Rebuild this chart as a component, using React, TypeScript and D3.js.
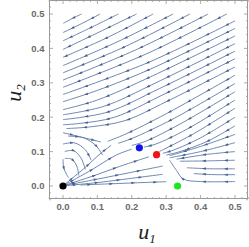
import { useRef, useEffect } from 'react';
import * as d3 from 'd3';

type Pt = [number, number];

// streamlines, listed in flow direction
const upperLines: Pt[][] = [
  [[0.054, 0.5], [0.027, 0.487], [0.001, 0.473]],
  [[0.108, 0.5], [0.054, 0.472], [0.0, 0.446]],
  [[0.161, 0.5], [0.08, 0.46], [0.0, 0.422]],
  [[0.214, 0.5], [0.1, 0.445], [0.0, 0.397]],
  [[0.262, 0.5], [0.13, 0.432], [0.0, 0.374]],
  [[0.32, 0.5], [0.16, 0.42], [0.0, 0.35]],
  [[0.369, 0.5], [0.18, 0.405], [0.0, 0.329]],
  [[0.422, 0.5], [0.21, 0.395], [0.0, 0.308]],
  [[0.476, 0.5], [0.24, 0.383], [0.0, 0.287]],
  [[0.5, 0.48], [0.25, 0.36], [0.0, 0.266]],
  [[0.5, 0.458], [0.25, 0.338], [0.1, 0.278], [0.0, 0.245]],
  [[0.5, 0.436], [0.26, 0.32], [0.1, 0.25], [0.0, 0.222]],
  [[0.5, 0.414], [0.27, 0.3], [0.12, 0.232], [0.0, 0.207]],
  [[0.5, 0.392], [0.28, 0.283], [0.13, 0.215], [0.0, 0.193]],
  [[0.5, 0.37], [0.29, 0.265], [0.15, 0.2], [0.05, 0.182], [0.0, 0.178]],
  [[0.5, 0.346], [0.3, 0.245], [0.18, 0.19], [0.08, 0.172], [0.01, 0.167]],
];

const middleLines: Pt[][] = [
  [[0.5, 0.322], [0.3, 0.21], [0.18, 0.15], [0.13, 0.13]],
  [[0.5, 0.298], [0.32, 0.195], [0.2, 0.138], [0.16, 0.124]],
  [[0.5, 0.274], [0.34, 0.18], [0.24, 0.13], [0.2, 0.118]],
  [[0.5, 0.25], [0.36, 0.165], [0.27, 0.122], [0.235, 0.113]],
  [[0.5, 0.226], [0.38, 0.152], [0.3, 0.11], [0.28, 0.1]],
  [[0.5, 0.2], [0.4, 0.14], [0.32, 0.104], [0.29, 0.095]],
  [[0.5, 0.175], [0.42, 0.13], [0.34, 0.1], [0.3, 0.09]],
  [[0.5, 0.15], [0.4, 0.115], [0.31, 0.088]],
  [[0.5, 0.126], [0.4, 0.1], [0.31, 0.082]],
  [[0.0, 0.155], [0.05, 0.143], [0.11, 0.128]],
];

const lowerRightLines: Pt[][] = [
  [[0.5, 0.1], [0.42, 0.092], [0.33, 0.078]],
  [[0.5, 0.075], [0.42, 0.073], [0.34, 0.072]],
  [[0.5, 0.05], [0.43, 0.05], [0.36, 0.053]],
  [[0.5, 0.033], [0.44, 0.033], [0.38, 0.036]],
  [[0.5, 0.013], [0.4, 0.013], [0.35, 0.02], [0.33, 0.045], [0.31, 0.075]],
];

const originLines: Pt[][] = [
  [[0.004, 0.004], [0.06, 0.05], [0.111, 0.096], [0.14, 0.118]],
  [[0.004, 0.003], [0.08, 0.045], [0.155, 0.09], [0.2, 0.107]],
  [[0.005, 0.002], [0.09, 0.03], [0.165, 0.057], [0.25, 0.085]],
  [[0.006, 0.002], [0.1, 0.02], [0.165, 0.033], [0.29, 0.058]],
  [[0.008, 0.001], [0.1, 0.01], [0.165, 0.018], [0.29, 0.034]],
  [[0.05, 0.003], [0.18, 0.008], [0.3, 0.0125]],
];

const arcLines: Pt[][] = [
  [[0.015, 0.145], [0.06, 0.14], [0.095, 0.118], [0.115, 0.09]],
  [[0.0, 0.122], [0.035, 0.125], [0.065, 0.105], [0.082, 0.075]],
  [[0.005, 0.1], [0.03, 0.103], [0.052, 0.082], [0.065, 0.048]],
  [[0.005, 0.08], [0.025, 0.078], [0.04, 0.058], [0.046, 0.03]],
  [[0.0, 0.078], [0.003, 0.05], [0.016, 0.024]],
];

const pointsX = [0, 0.222, 0.272, 0.333];
const pointsY = [0, 0.111, 0.091, 0];
const pointColors = ['#000000', '#1414e6', '#f01414', '#1ee61e'];

const ticks = [0, 0.1, 0.2, 0.3, 0.4, 0.5];
const minorTicks = d3.range(-0.04, 0.54, 0.02);

export default function App() {
  const svgRef = useRef<SVGSVGElement>(null);

  useEffect(() => {
    const svg = svgRef.current;
    if (!svg) return;
    const width = 249;
    const height = 247;
    const left = 49;
    const right = 248;
    const top = 0;
    const bottom = 199;

    const sel = d3.select(svg);
    sel.selectAll('*').remove();
    sel.attr('width', width).attr('height', height);

    const x = d3.scaleLinear().domain([-0.0407, 0.5378]).range([left, right]);
    const y = d3.scaleLinear().domain([-0.0378, 0.5407]).range([bottom, top]);

    const g = sel.append('g');
    const clip = sel.append('clipPath').attr('id', 'plotclip');
    clip.append('rect').attr('x', left).attr('y', top).attr('width', right - left).attr('height', bottom - top);

    const line = d3
      .line<Pt>()
      .x((d) => x(d[0]))
      .y((d) => y(d[1]))
      .curve(d3.curveCatmullRom);

    const streams = g.append('g').attr('clip-path', 'url(#plotclip)');
    const all = [...upperLines, ...middleLines, ...lowerRightLines, ...originLines, ...arcLines];
    all.forEach((pts) => {
      const path = streams
        .append('path')
        .attr('d', line(pts))
        .attr('fill', 'none')
        .attr('stroke', '#6782ae')
        .attr('stroke-width', 0.95);
      const node = path.node() as SVGPathElement;
      const len = node.getTotalLength();
      const step = 22;
      for (let s = 9; s < len - 3; s += step) {
        const p = node.getPointAtLength(s);
        const q = node.getPointAtLength(Math.min(len, s + 1));
        const ang = (Math.atan2(q.y - p.y, q.x - p.x) * 180) / Math.PI;
        streams
          .append('path')
          .attr('d', 'M1.9,0 L-1.8,-1.3 L-1.8,1.3 Z')
          .attr('transform', `translate(${p.x},${p.y}) rotate(${ang})`)
          .attr('fill', '#46638f');
      }
    });

    // frame
    g.append('rect')
      .attr('x', left + 0.5)
      .attr('y', top + 0.5)
      .attr('width', right - left - 1)
      .attr('height', bottom - top - 1)
      .attr('fill', 'none')
      .attr('stroke', '#9a9a9a')
      .attr('stroke-width', 1);

    const tickG = g.append('g').attr('stroke', '#9a9a9a').attr('stroke-width', 0.8);
    minorTicks.forEach((t) => {
      const isMajor = ticks.some((m) => Math.abs(m - t) < 1e-6);
      const l = isMajor ? 4 : 2;
      tickG.append('line').attr('x1', x(t)).attr('x2', x(t)).attr('y1', bottom).attr('y2', bottom - l);
      tickG.append('line').attr('x1', x(t)).attr('x2', x(t)).attr('y1', top).attr('y2', top + l);
      tickG.append('line').attr('x1', left).attr('x2', left + l).attr('y1', y(t)).attr('y2', y(t));
      tickG.append('line').attr('x1', right).attr('x2', right - l).attr('y1', y(t)).attr('y2', y(t));
    });

    const labelStyle = (t: d3.Selection<SVGTextElement, unknown, null, undefined>) =>
      t
        .attr('font-family', 'Liberation Sans, Arial, sans-serif')
        .attr('font-size', 9.5)
        .attr('font-weight', 'bold')
        .attr('fill', '#6b6b6b');

    ticks.forEach((t) => {
      labelStyle(
        g.append('text').attr('x', x(t)).attr('y', 209.5).attr('text-anchor', 'middle').text(t.toFixed(1))
      );
      labelStyle(
        g
          .append('text')
          .attr('x', 44.5)
          .attr('y', y(t))
          .attr('dy', '0.35em')
          .attr('text-anchor', 'end')
          .text(t.toFixed(1))
      );
    });

    // axis labels
    const u1 = g
      .append('text')
      .attr('x', 147)
      .attr('y', 239)
      .attr('text-anchor', 'middle')
      .attr('font-family', 'Liberation Serif, serif')
      .attr('font-style', 'italic')
      .attr('font-size', 22)
      .attr('fill', '#222');
    u1.append('tspan').text('u');
    u1.append('tspan').attr('font-size', 13).attr('dy', 4).text('1');

    const u2 = g
      .append('text')
      .attr('transform', `translate(21,93) rotate(-90)`)
      .attr('text-anchor', 'middle')
      .attr('font-family', 'Liberation Serif, serif')
      .attr('font-style', 'italic')
      .attr('font-size', 22)
      .attr('fill', '#222');
    u2.append('tspan').text('u');
    u2.append('tspan').attr('font-size', 13).attr('dy', 4).text('2');

    // equilibrium points
    g.selectAll('.pt')
      .data(pointsX)
      .join('circle')
      .attr('cx', (d) => x(d))
      .attr('cy', (_, i) => y(pointsY[i]))
      .attr('r', 3.6)
      .attr('fill', (_, i) => pointColors[i]);
  }, []);

  return (
    <div style={{ position: 'absolute', left: 0, top: 0 }}>
      <svg ref={svgRef} style={{ display: 'block' }} />
    </div>
  );
}
